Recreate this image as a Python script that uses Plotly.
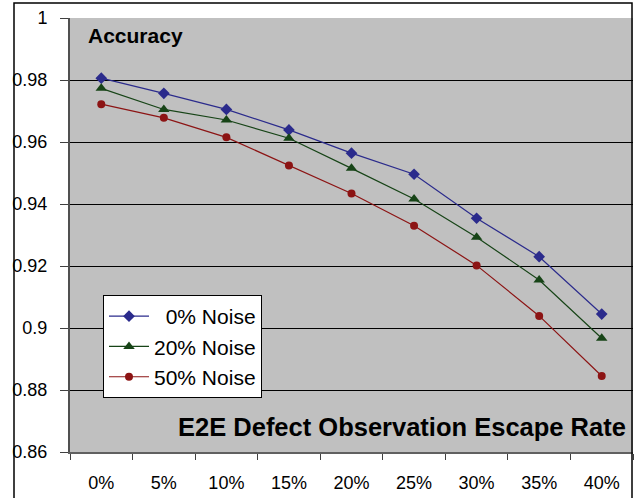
import plotly.graph_objects as go

categories = ["0%", "5%", "10%", "15%", "20%", "25%", "30%", "35%", "40%"]
noise0 = [0.9806, 0.9757, 0.9705, 0.9639, 0.9564, 0.9496, 0.9354, 0.9230, 0.9045]
noise20 = [0.9773, 0.9705, 0.9671, 0.9612, 0.9515, 0.9416, 0.9293, 0.9155, 0.8967]
noise50 = [0.9722, 0.9678, 0.9615, 0.9524, 0.9434, 0.9330, 0.9202, 0.9039, 0.8845]
series_names = ["\u20070% Noise", "20% Noise", "50% Noise"]

FONT = "Arial, 'Liberation Sans', sans-serif"
W, H = 634, 498
ML, MR, MT, MB = 70, 1, 18, 46
PW, PH = W - ML - MR, H - MT - MB

def px_x(p):
    return (p - ML) / PW

def px_y(p):
    return (H - MB - p) / PH

fig = go.Figure()
styles = [
    ("#2b2b8c", "diamond", 9),
    ("#174417", "triangle-up", 10),
    ("#8c1414", "circle", 8),
]
for name, vals, (col, sym, sz) in zip(series_names, [noise0, noise20, noise50], styles):
    fig.add_trace(go.Scatter(
        x=categories, y=vals, name=name, mode="lines+markers",
        line=dict(color=col, width=1.2),
        marker=dict(color=col, symbol=sym, size=sz),
    ))

fig.update_layout(
    width=W, height=H,
    margin=dict(l=ML, r=MR, t=MT, b=MB),
    paper_bgcolor="white",
    plot_bgcolor="#c0c0c0",
    font=dict(family=FONT, size=18, color="black"),
    showlegend=True,
    legend=dict(
        x=px_x(103), y=px_y(295), xanchor="left", yanchor="top",
        bgcolor="white", bordercolor="black", borderwidth=1,
        font=dict(family=FONT, size=21, color="black"),
        itemwidth=40, tracegroupgap=0,
    ),
    xaxis=dict(
        type="category", tickson="boundaries",
        ticks="outside", ticklen=6, tickcolor="#404040",
        showline=True, linecolor="#606060", linewidth=1.5,
        showgrid=False, zeroline=False,
        tickfont=dict(family=FONT, size=18),
        ticklabelstandoff=14,
        range=[-0.5, 8.5],
    ),
    yaxis=dict(
        range=[0.86, 1.0], dtick=0.02, tick0=0.86,
        ticks="outside", ticklen=8, tickcolor="#404040",
        showline=True, linecolor="#505050", linewidth=2,
        showgrid=True, gridcolor="black", gridwidth=1,
        zeroline=False,
        tickfont=dict(family=FONT, size=18),
        ticklabelstandoff=9,
    ),
    annotations=[
        dict(text="<b>Accuracy</b>", xref="paper", yref="paper",
             x=px_x(86), y=px_y(35), xanchor="left", yanchor="middle",
             showarrow=False, font=dict(family=FONT, size=21, color="black")),
        dict(text="<b>E2E Defect Observation Escape Rate</b>", xref="paper", yref="paper",
             x=px_x(628), y=px_y(427), xanchor="right", yanchor="middle",
             showarrow=False, font=dict(family=FONT, size=25.5, color="black")),
    ],
    shapes=[
        dict(type="rect", xref="paper", yref="paper",
             x0=px_x(14), x1=px_x(632), y0=px_y(500), y1=px_y(3),
             line=dict(color="black", width=1.5), fillcolor="rgba(0,0,0,0)", layer="above"),
    ],
)

fig.write_html("out.html")
